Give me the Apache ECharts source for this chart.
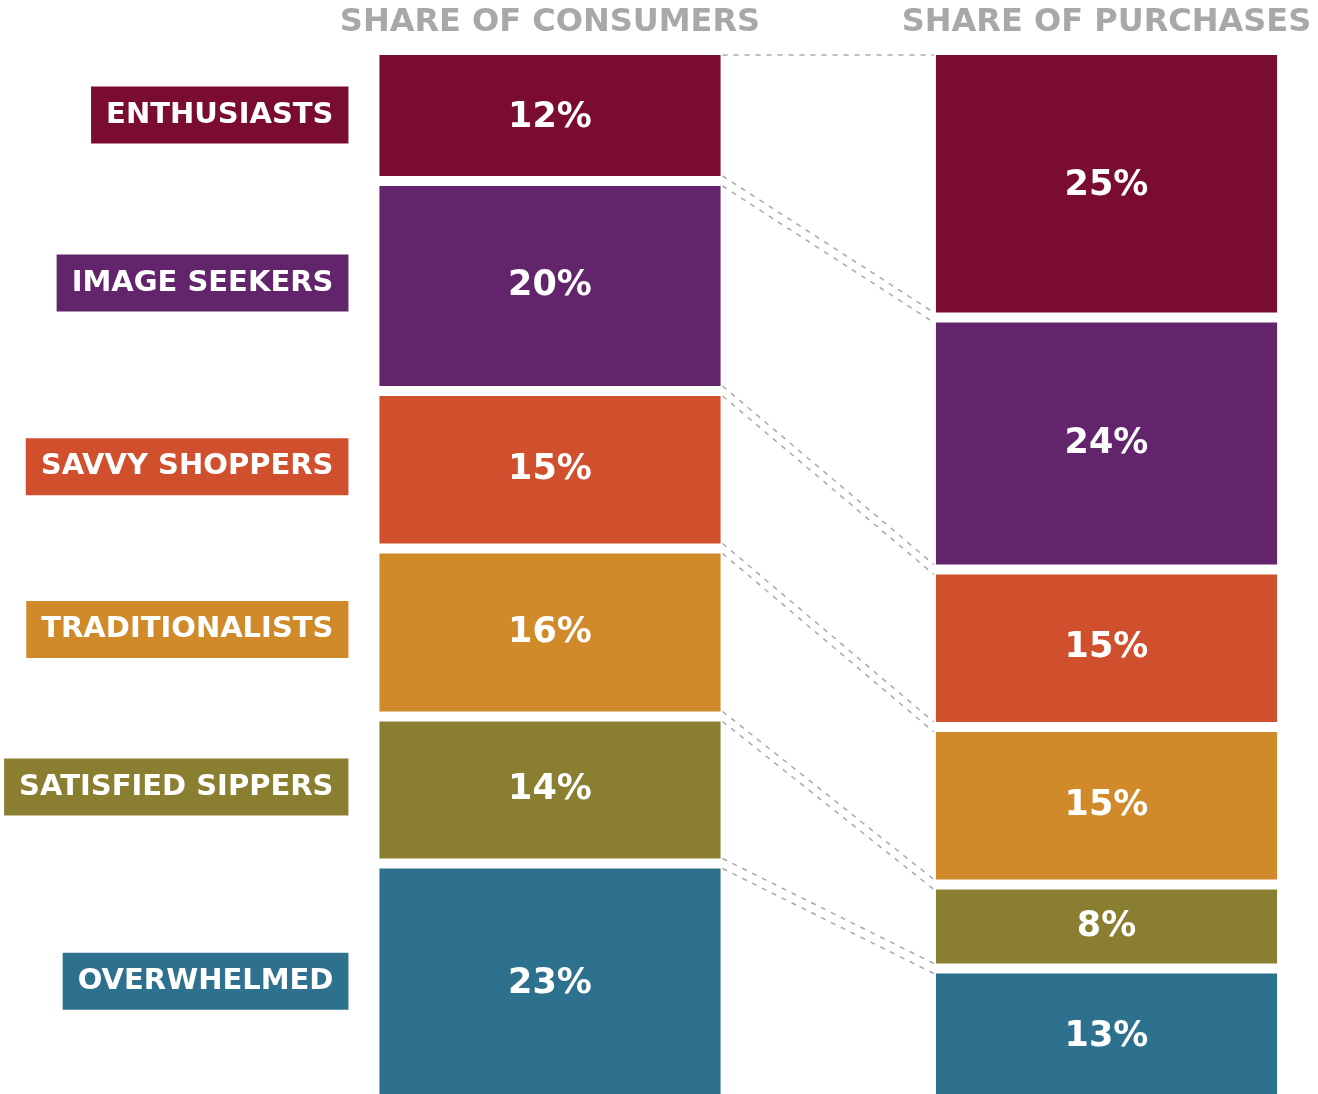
<!DOCTYPE html>
<html>
<head>
<meta charset="utf-8">
<script src="https://cdn.jsdelivr.net/npm/echarts@6/dist/echarts.min.js"></script>
<style>
html,body{margin:0;padding:0;background:#fff;}
#chart{width:1318px;height:1094px;}
</style>
</head>
<body>
<div id="chart"></div>
<script>
// ---- data ----
const columns = ['SHARE OF CONSUMERS', 'SHARE OF PURCHASES'];
const segments = ['ENTHUSIASTS', 'IMAGE SEEKERS', 'SAVVY SHOPPERS', 'TRADITIONALISTS', 'SATISFIED SIPPERS', 'OVERWHELMED'];
const consumerShare = [12, 20, 15, 16, 14, 23];
const purchaseShare = [25, 24, 15, 15, 8, 13];
const segmentColors = ['#7a0c30', '#62246a', '#d0502e', '#d08a2a', '#8a7f30', '#2e718e'];

// ---- build ----
function cumulative(arr) {
  const out = [0];
  arr.forEach(v => out.push(out[out.length - 1] + v));
  return out;
}
const cumC = cumulative(consumerShare);
const cumP = cumulative(purchaseShare);

const blockData = [];
segments.forEach((s, i) => {
  blockData.push([0, cumC[i], consumerShare[i], i]);
  blockData.push([1, cumP[i], purchaseShare[i], i]);
});
const linkData = cumC.map((c, i) => [c, cumP[i], i]);

const FONT = '"DejaVu Sans", sans-serif';
const BAR_FRAC = 0.613;
const GAP = 5;
const TOTAL = 100;

const chart = echarts.init(document.getElementById('chart'));
chart.setOption({
  backgroundColor: '#ffffff',
  animation: false,
  grid: { left: 550, width: 556.5, top: 55, height: 1050, outerBoundsMode: 'none', containLabel: false },
  xAxis: {
    type: 'category',
    data: columns,
    boundaryGap: false,
    position: 'top',
    axisLine: { show: false },
    axisTick: { show: false },
    splitLine: { show: false },
    axisLabel: {
      color: '#a8a8a8',
      fontFamily: FONT,
      fontWeight: 'bold',
      fontSize: 32,
      margin: 16,
      interval: 0,
      hideOverlap: false
    }
  },
  yAxis: {
    type: 'value',
    min: 0,
    max: TOTAL,
    inverse: true,
    show: false,
    splitLine: { show: false }
  },
  series: [
    {
      type: 'custom',
      name: 'links',
      data: linkData,
      clip: false,
      silent: true,
      z: 1,
      renderItem: function (params, api) {
        const l = api.value(0), r = api.value(1);
        const pl = api.coord([0, l]);
        const pr = api.coord([1, r]);
        const halfW = api.size([1, 0])[0] * BAR_FRAC / 2;
        const x1 = pl[0] + halfW + 2, x2 = pr[0] - halfW - 2;
        const style = { stroke: '#a9a9a9', lineWidth: 1.5, lineDash: [5, 6], fill: null };
        const offsets = (l === 0 || l === TOTAL) ? [0] : [-GAP, GAP];
        return {
          type: 'group',
          children: offsets.map(o => ({
            type: 'line',
            shape: { x1: x1, y1: pl[1] + o, x2: x2, y2: pr[1] + o },
            style: style
          }))
        };
      }
    },
    {
      type: 'custom',
      name: 'blocks',
      data: blockData,
      clip: false,
      z: 2,
      renderItem: function (params, api) {
        const col = api.value(0), start = api.value(1), val = api.value(2), seg = api.value(3);
        const end = start + val;
        const p0 = api.coord([col, start]);
        const p1 = api.coord([col, end]);
        const w = api.size([1, 0])[0] * BAR_FRAC;
        const y0 = p0[1] + (start === 0 ? 0 : GAP);
        const y1 = p1[1] - (end === TOTAL ? 0 : GAP);
        const color = segmentColors[seg];
        const children = [
          {
            type: 'rect',
            shape: { x: p0[0] - w / 2, y: y0, width: w, height: y1 - y0 },
            style: { fill: color }
          },
          {
            type: 'text',
            style: {
              text: val + '%',
              x: p0[0],
              y: (p0[1] + p1[1]) / 2,
              align: 'center',
              verticalAlign: 'middle',
              fill: '#ffffff',
              font: 'bold 35px ' + FONT
            }
          }
        ];
        if (col === 0) {
          children.push({
            type: 'text',
            style: {
              text: segments[seg],
              x: p0[0] - w / 2 - 31,
              y: (p0[1] + p1[1]) / 2 - 3,
              align: 'right',
              verticalAlign: 'middle',
              fill: '#ffffff',
              font: 'bold 29px ' + FONT,
              backgroundColor: color,
              padding: [14, 15, 14, 15]
            }
          });
        }
        return { type: 'group', children: children };
      }
    }
  ]
});
</script>
</body>
</html>
